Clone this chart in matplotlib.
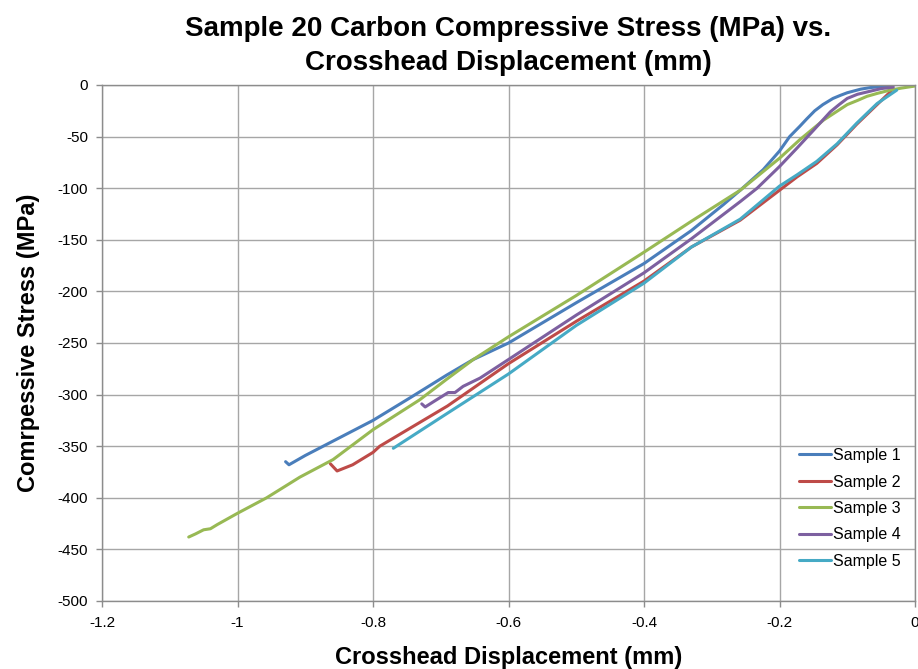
import matplotlib
matplotlib.use("Agg")
import matplotlib.pyplot as plt

plt.rcParams['font.family'] = ['Liberation Sans', 'DejaVu Sans']

# ---- data ----
s1_x = [-0.929, -0.924, -0.90, -0.85, -0.80, -0.745, -0.691, -0.652, -0.60, -0.50, -0.40,
        -0.33, -0.283, -0.258, -0.224, -0.20, -0.185, -0.17, -0.16, -0.148, -0.136,
        -0.121, -0.11, -0.10, -0.08, -0.066, -0.05, -0.034]
s1_y = [-365, -368, -359, -342, -325, -303, -281, -266, -250, -211, -173,
        -141, -116, -102, -82, -64, -50, -40, -33, -25, -19,
        -13, -10, -7.5, -4, -2.5, -1.5, -1]

s2_x = [-0.863, -0.853, -0.83, -0.80, -0.79, -0.69, -0.60, -0.50, -0.40, -0.33, -0.258,
        -0.20, -0.174, -0.145, -0.115, -0.086, -0.056, -0.037, -0.033]
s2_y = [-367, -374, -368, -356, -350, -311, -270, -229, -190, -157, -131,
        -102, -89, -76, -58, -38, -19, -7, -4]

s3_x = [-1.072, -1.062, -1.05, -1.04, -1.03, -1.00, -0.957, -0.908, -0.859, -0.80, -0.731,
        -0.691, -0.652, -0.60, -0.50, -0.40, -0.33, -0.258, -0.20, -0.17, -0.135, -0.10,
        -0.085, -0.071, -0.055, -0.037, -0.02, 0.0]
s3_y = [-438, -435, -431, -430, -426, -415, -400, -380, -363, -334, -305,
        -285, -266, -244, -204, -162, -132, -102, -71, -53, -34, -19,
        -15, -11, -8, -5, -3, -1]

s4_x = [-0.728, -0.723, -0.711, -0.689, -0.679, -0.667, -0.642, -0.60, -0.50, -0.40,
        -0.33, -0.258, -0.233, -0.20, -0.174, -0.15, -0.125, -0.112, -0.10, -0.085,
        -0.066, -0.05, -0.032]
s4_y = [-309, -312, -307, -298, -298, -292, -284, -266, -223, -182,
        -149, -113, -100, -79, -61, -44, -26, -19, -13, -9,
        -6, -3.5, -2]

s5_x = [-0.77, -0.69, -0.60, -0.50, -0.40, -0.33, -0.258, -0.20, -0.174, -0.145,
        -0.115, -0.086, -0.056, -0.027]
s5_y = [-352, -318, -280, -233, -192, -157, -130, -98, -87, -74,
        -57, -37, -18, -5]

labels = ["Sample 1", "Sample 2", "Sample 3", "Sample 4", "Sample 5"]
colors = ["#4A7EBB", "#BE4B48", "#98B954", "#7D60A0", "#46AAC5"]

x_ticks = [-1.2, -1.0, -0.8, -0.6, -0.4, -0.2, 0.0]
x_tick_labels = ["-1.2", "-1", "-0.8", "-0.6", "-0.4", "-0.2", "0"]
y_ticks = [0, -50, -100, -150, -200, -250, -300, -350, -400, -450, -500]

# ---- figure ----
fig = plt.figure(figsize=(9.18, 6.69), dpi=100)
ax = fig.add_axes([102 / 918, 1 - 601 / 669, (915 - 102) / 918, (601 - 85) / 669])

series = [(s1_x, s1_y), (s2_x, s2_y), (s3_x, s3_y), (s4_x, s4_y), (s5_x, s5_y)]
for (xs, ys), lab, col in zip(series, labels, colors):
    ax.plot(xs, ys, color=col, lw=2.2, label=lab, solid_joinstyle='round',
            solid_capstyle='round')

ax.set_xlim(-1.2, 0)
ax.set_ylim(-500, 0)
ax.set_xticks(x_ticks)
ax.set_xticklabels(x_tick_labels)
ax.set_yticks(y_ticks)
ax.set_yticklabels([str(v) for v in y_ticks])

ax.grid(True, color="#A6A6A6", lw=1.0)
ax.set_axisbelow(True)
for sp in ax.spines.values():
    sp.set_color("#8C8C8C")
    sp.set_linewidth(1.0)
ax.tick_params(axis='both', direction='out', length=4, width=1.0, color="#8C8C8C",
               labelsize=11, labelcolor="black")
ax.tick_params(axis='y', pad=6)
ax.tick_params(axis='x', pad=7)

ax.set_title("Sample 20 Carbon Compressive Stress (MPa) vs.\nCrosshead Displacement (mm)",
             fontsize=20, fontweight='bold', pad=11, linespacing=1.4)
ax.set_xlabel("Crosshead Displacement (mm)", fontsize=17, fontweight='bold', labelpad=11)
ax.set_ylabel("Comrpessive Stress (MPa)", fontsize=17, fontweight='bold', labelpad=13)

leg = ax.legend(loc='upper left', bbox_to_anchor=((799 - 102) / 813, 1 - (448 - 85) / 516),
                frameon=False, fontsize=11.5, handlelength=2.0, handletextpad=0.15,
                labelspacing=0.72, borderpad=0, borderaxespad=0)

fig.savefig("out.png", dpi=100)
